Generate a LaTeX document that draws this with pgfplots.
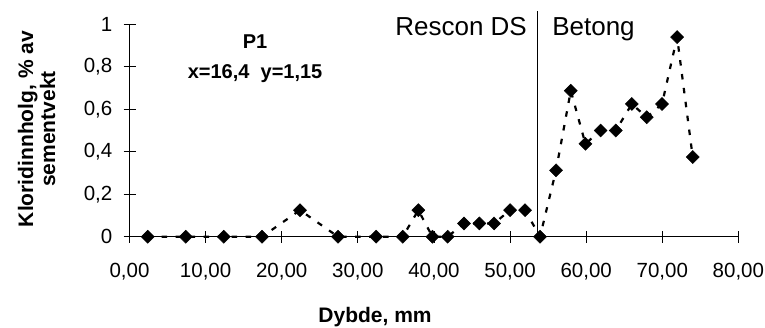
\documentclass[border=0pt]{standalone}
\usepackage{fontspec}
\setmainfont{Liberation Sans}
\usepackage{pgfplots}
\pgfplotsset{compat=1.18}
\begin{document}
\begin{tikzpicture}
\begin{axis}[
  scale only axis,
  width=608.8bp, height=212.4bp,
  xmin=0, xmax=80, ymin=0, ymax=1,
  axis lines=left,
  axis line style={-, line width=0.8bp, black},
  xtick={0,10,...,80},
  ytick={0,0.2,0.4,0.6,0.8,1},
  tick align=center,
  major tick length=12bp,
  tick style={line width=0.8bp, black},
  /pgf/number format/assume math mode=true,
  xticklabel={\pgfmathprintnumber[fixed,fixed zerofill,precision=2,use comma]{\tick}},
  yticklabel={\pgfmathprintnumber[use comma]{\tick}},
  ticklabel style={font=\fontsize{20.5bp}{24bp}\selectfont},
  xticklabel style={anchor=north, inner sep=0pt, yshift=-20bp},
  yticklabel style={anchor=east, inner sep=0pt, xshift=-11bp},
  clip=false,
]
\addplot[black, line width=2.2bp, dash pattern=on 5.5bp off 8.5bp,
  mark=square*, mark size=4.6bp, mark options={solid, rotate=45, fill=black, line width=0.5bp}]
coordinates {
(2.39,0) (7.39,0) (12.38,0) (17.41,0) (22.4,0.125) (27.4,0) (32.4,0)
(35.9,0) (37.95,0.125) (39.8,0) (41.8,0) (43.95,0.0625) (45.97,0.0625)
(47.9,0.0625) (50.0,0.125) (51.97,0.125) (53.94,0) (56.04,0.3125)
(57.98,0.6875) (59.9,0.4375) (61.9,0.5) (63.9,0.5) (66.0,0.625)
(67.96,0.5625) (69.97,0.625) (71.95,0.94) (74.0,0.375)
};
\draw[black, line width=0.8bp] (axis cs:53.6,0) -- (axis cs:53.6,1.063);
\node[anchor=base east, inner sep=0pt, font=\fontsize{26bp}{30bp}\selectfont] at (axis cs:52.23,0.945) {Rescon DS};
\node[anchor=base west, inner sep=0pt, font=\fontsize{26bp}{30bp}\selectfont] at (axis cs:55.52,0.945) {Betong};
\node[anchor=base, inner sep=0pt, font=\bfseries\fontsize{20bp}{24bp}\selectfont] at (axis cs:16.5,0.884) {P1};
\node[anchor=base, inner sep=0pt, font=\bfseries\fontsize{20bp}{24bp}\selectfont] at (axis cs:16.5,0.747) {x=16,4\ \ y=1,15};
\node[anchor=base, inner sep=0pt, font=\bfseries\fontsize{21bp}{24bp}\selectfont] at (axis cs:32.26,-0.403) {Dybde, mm};
\node[anchor=base, inner sep=0pt, rotate=90, font=\bfseries\fontsize{21bp}{24bp}\selectfont] at (axis cs:-12.68,0.507) {Kloridinnholg, \% av};
\node[anchor=base, inner sep=0pt, rotate=90, font=\bfseries\fontsize{21bp}{24bp}\selectfont] at (axis cs:-9.79,0.507) {sementvekt};
\coordinate (bl) at (axis cs:-17.02,-0.4252);
\coordinate (tr) at (axis cs:83.5,1.1144);
\end{axis}
\pgfresetboundingbox
\useasboundingbox (bl) rectangle (tr);
\end{tikzpicture}
\end{document}
